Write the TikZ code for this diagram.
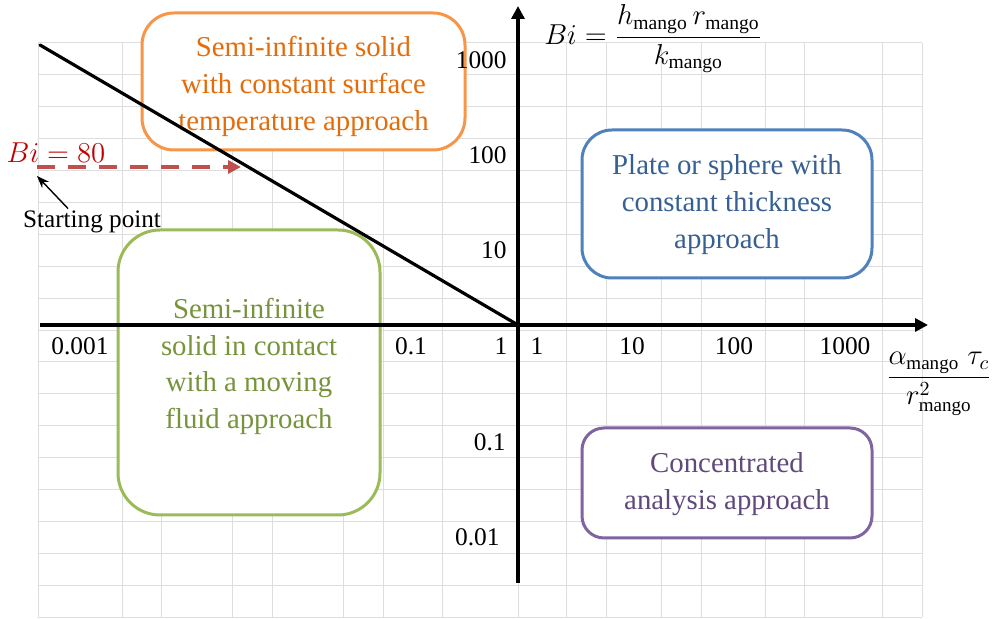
\documentclass[tikz,border=0pt]{standalone}
\usepackage{amsmath}
\usepackage{fontspec}
\setmainfont{Liberation Serif}
\usepackage{tikz}
\usetikzlibrary{arrows.meta, calc}
\definecolor{gridgray}{RGB}{222,222,222}
\definecolor{orangeB}{RGB}{247,150,70}
\definecolor{orangeT}{RGB}{228,108,10}
\definecolor{blueB}{RGB}{79,129,189}
\definecolor{blueT}{RGB}{55,96,146}
\definecolor{greenB}{RGB}{155,187,89}
\definecolor{greenT}{RGB}{119,147,60}
\definecolor{purpleB}{RGB}{128,100,162}
\definecolor{purpleT}{RGB}{96,74,123}
\definecolor{redT}{RGB}{192,0,0}
\definecolor{redA}{RGB}{192,80,77}
\tikzset{
  gridline/.style={draw=gridgray, line width=0.5pt},
  axis/.style={line width=1.7pt, -{Triangle[length=6.5pt,width=6.5pt]}},
  regime/.style={line width=1.6pt, black, line cap=round},
  apbox/.style={rectangle, line width=1.5pt, fill=white, inner sep=0pt},
  aptext/.style={align=center, font=\fontsize{14.4}{18.3}\selectfont, inner sep=0pt},
  tick/.style={font=\fontsize{12.7}{15}\selectfont, inner sep=0pt},
  ytick/.style={tick, anchor=east},
  bipath/.style={draw=redA, line width=2.2pt, dash pattern=on 9pt off 6.5pt,
    -{Triangle[length=6.5pt,width=6.5pt]}},
  pointer/.style={->, >=Stealth, line width=0.7pt},
}

\begin{document}
\begin{tikzpicture}[x=0.5pt, y=-0.5pt]
  \useasboundingbox[fill=white] (0,0) rectangle (993,619);

  % grid
  \foreach \gx in {38,122,161,232,272,343,383,442,518,566,606,661,701,765,804,882,922}
    \draw[gridline] (\gx,43) -- (\gx,617);
  \foreach \gy in {0,...,18}
    \draw[gridline] (38,{43+31.89*\gy}) -- (922,{43+31.89*\gy});

  % boxes
  \node[apbox, draw=orangeB, rounded corners=16pt,
        minimum width=161.5pt, minimum height=68.5pt] (semiconst) at (303.5,81.5) {};
  \node[apbox, draw=greenB, rounded corners=21pt,
        minimum width=131pt, minimum height=142.5pt] (semifluid) at (249,372.5) {};
  \node[apbox, draw=blueB, rounded corners=15pt,
        minimum width=145pt, minimum height=74pt] (plate) at (727,204) {};
  \node[apbox, draw=purpleB, rounded corners=11pt,
        minimum width=145pt, minimum height=55pt] (concentr) at (727,483) {};

  \node[aptext, text=orangeT] (semiconst-txt) at (303.5,86.5)
       {Semi-infinite solid\\with constant surface\\temperature approach};
  \node[aptext, text=greenT] (semifluid-txt) at (249,366.5)
       {Semi-infinite\\solid in contact\\with a moving\\fluid approach};
  \node[aptext, text=blueT] (plate-txt) at (727,204.5)
       {Plate or sphere with\\constant thickness\\approach};
  \node[aptext, text=purpleT] (concentr-txt) at (727,484)
       {Concentrated\\analysis approach};

  % axes
  \coordinate (origin) at (518,325);
  \coordinate (xleft) at (40,325);
  \coordinate (xright) at (928,325);
  \coordinate (ybottom) at (518,583);
  \coordinate (ytop) at (518,6);
  \coordinate (linetop) at (40,45);
  \draw[axis] (xleft) -- (xright);
  \draw[axis] (ybottom) -- (ytop);
  \draw[regime] (linetop) -- (origin);

  % tick labels
  \node[ytick] (y1000) at (507,60) {1000};
  \node[ytick] (y100) at (507,155) {100};
  \node[ytick] (y10) at (507,250) {10};
  \node[ytick] (y01) at (506,442) {0.1};
  \node[ytick] (y001) at (500,537) {0.01};
  \node[tick] (x0001) at (80,346) {0.001};
  \node[tick] (x01) at (411,346) {0.1};
  \node[tick] (x1l) at (501,346) {1};
  \node[tick] (x1r) at (537,346) {1};
  \node[tick] (x10) at (632,346) {10};
  \node[tick] (x100) at (734,346) {100};
  \node[tick] (x1000) at (845,346) {1000};

  % axis titles
  \node[anchor=west, inner sep=0pt, font=\fontsize{14}{17}\selectfont] (bidef) at (544,39)
       {$Bi = \dfrac{h_{\mathrm{mango}}\,r_{\mathrm{mango}}}{k_{\mathrm{mango}}}$};
  \node[anchor=east, inner sep=0pt, font=\fontsize{13.6}{16}\selectfont] (fodef) at (992,384)
       {$\dfrac{\alpha_{\mathrm{mango}}\;\tau_c}{r^2_{\mathrm{mango}}}$};

  % starting value
  \node[text=redT, inner sep=0pt, font=\fontsize{14}{17}\selectfont] (bi80) at (56,153) {$Bi=80$};
  \coordinate (bistart) at (37,167);
  \coordinate (biend) at (241,167);
  \draw[bipath] (bistart) -- (biend);
  \node[inner sep=1pt, font=\fontsize{12.6}{15}\selectfont] (startpt) at (92,222) {Starting point};
  \draw[pointer] ([xshift=-12pt]startpt.north) -- ([yshift=-4.5pt]bistart);
\end{tikzpicture}
\end{document}
